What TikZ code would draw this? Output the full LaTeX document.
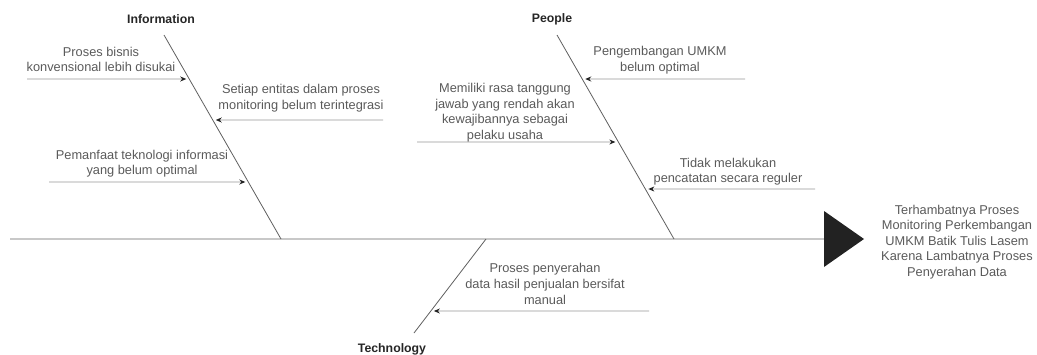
\documentclass[tikz,border=0pt]{standalone}
\usepackage{fontspec}
\setmainfont{Liberation Sans}
\usetikzlibrary{arrows.meta,calc}
\definecolor{txt}{RGB}{90,90,90}
\definecolor{bonec}{RGB}{95,95,95}
\definecolor{arrc}{RGB}{150,150,150}
\definecolor{spinec}{RGB}{200,200,200}
\definecolor{headc}{RGB}{34,34,34}
\begin{document}
\begin{tikzpicture}[x=1pt,y=-1pt,
  lbl/.style={align=center,inner sep=0pt,text=txt,font=\fontsize{12.8}{15.6}\selectfont},
  ttl/.style={inner sep=0pt,text=black!85,font=\fontsize{12.3}{15}\selectfont\bfseries},
  bone/.style={draw=bonec,line width=0.8pt},
  cause/.style={draw=arrc,line width=0.9pt,-{Stealth[length=6pt,width=5pt,color=headc]},shorten >=3pt},
  headtri/.style={fill=headc,draw=none}]
\useasboundingbox (0,0) rectangle (1037,354);
% spine and head
\coordinate (spL) at (10,239);
\coordinate (spR) at (824,239);
\draw[draw=spinec,line width=2pt] (spL) -- (spR);
\coordinate (triA) at (824,211);
\coordinate (triB) at (864,239);
\coordinate (triC) at (824,267);
\fill[headtri] (triA) -- (triB) -- (triC) -- cycle;
\node[lbl] (effect) at (957,242) {Terhambatnya Proses\\Monitoring Perkembangan\\UMKM Batik Tulis Lasem\\Karena Lambatnya Proses\\Penyerahan Data};
% titles
\node[ttl] (tInfo) at (161,19) {Information};
\node[ttl] (tPeople) at (552,19) {People};
\node[ttl] (tTech) at (392,349) {Technology};
% bones
\coordinate (ibT) at (164,35);
\coordinate (ibB) at (281,239);
\coordinate (pbT) at (557,35);
\coordinate (pbB) at (674,239);
\coordinate (tbT) at (486,239);
\coordinate (tbB) at (414,333);
\draw[bone] (ibT) -- (ibB);
\draw[bone] (pbT) -- (pbB);
\draw[bone] (tbT) -- (tbB);
% Information causes
\node[lbl] (i1) at (101,59.5) {Proses bisnis\\konvensional lebih disukai};
\coordinate (i1s) at (27,79);
\coordinate (i1e) at ($(ibT)!{44/204}!(ibB)$);
\draw[cause] (i1s) -- (i1e);
\node[lbl] (i2) at (301,98) {Setiap entitas dalam proses\\monitoring belum terintegrasi};
\coordinate (i2s) at (383,120);
\coordinate (i2e) at ($(ibT)!{85/204}!(ibB)$);
\draw[cause] (i2s) -- (i2e);
\node[lbl] (i3) at (142,163.5) {Pemanfaat teknologi informasi\\yang belum optimal};
\coordinate (i3s) at (49,182);
\coordinate (i3e) at ($(ibT)!{147/204}!(ibB)$);
\draw[cause] (i3s) -- (i3e);
% People causes
\node[lbl] (p1) at (660,60) {Pengembangan UMKM\\belum optimal};
\coordinate (p1s) at (745,79);
\coordinate (p1e) at ($(pbT)!{44/204}!(pbB)$);
\draw[cause] (p1s) -- (p1e);
\node[lbl] (p2) at (505,112.5) {Memiliki rasa tanggung\\jawab yang rendah akan\\kewajibannya sebagai\\pelaku usaha};
\coordinate (p2s) at (417,142);
\coordinate (p2e) at ($(pbT)!{107/204}!(pbB)$);
\draw[cause] (p2s) -- (p2e);
\node[lbl] (p3) at (728,171.5) {Tidak melakukan\\pencatatan secara reguler};
\coordinate (p3s) at (815,189);
\coordinate (p3e) at ($(pbT)!{154/204}!(pbB)$);
\draw[cause] (p3s) -- (p3e);
% Technology cause
\node[lbl] (t1) at (545,284) {Proses penyerahan\\data hasil penjualan bersifat\\manual};
\coordinate (t1s) at (649,311);
\coordinate (t1e) at ($(tbT)!{72/94}!(tbB)$);
\draw[cause] (t1s) -- (t1e);
\end{tikzpicture}
\end{document}
